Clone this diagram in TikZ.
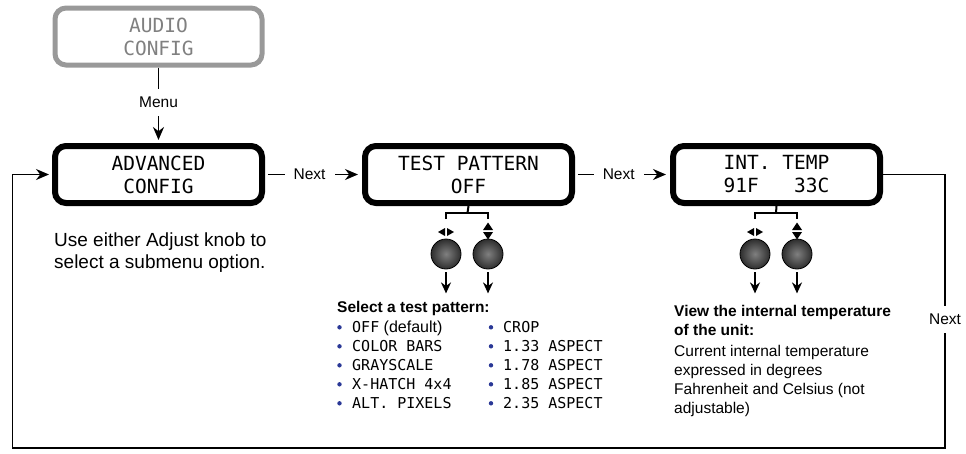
\documentclass[tikz,border=0pt]{standalone}
\usepackage{fontspec}
\setmainfont{Liberation Sans}
\newfontfamily\lcdfont{DejaVu Sans Mono}
\usetikzlibrary{arrows.meta}
\definecolor{dotblue}{RGB}{42,56,150}

\tikzset{
lcd/.style={draw,line width=6pt,rounded corners=11pt,minimum width=207pt,minimum height=57pt,inner sep=0pt,align=center,font=\lcdfont\fontsize{19.5}{23}\selectfont},
go/.style={line width=1.5pt,-{Stealth[length=13pt,width=11pt]}},
turn/.style={line width=1.6pt,-{Stealth[length=11pt,width=10pt]}},
lbl/.style={fill=white,inner xsep=9pt,inner ysep=8pt,font=\fontsize{15.5}{18}\selectfont},
brk/.style={line width=2pt},
knob/.style={circle,draw,line width=.8pt,minimum size=30pt,inner sep=0pt,inner color=black!50,outer color=black!82},
item/.style={anchor=base west,inner sep=0pt,font=\lcdfont\fontsize{15}{18}\selectfont},
note/.style={anchor=base west,inner sep=0pt,font=\fontsize{15.5}{19}\selectfont}
}

\begin{document}
\begin{tikzpicture}[x=1pt,y=-1pt]
\useasboundingbox (0,0) rectangle (966,453);

\node[lcd,draw=black!40,text=black!50,line width=5pt] (audio) at (158.5,36.5) {AUDIO\\CONFIG};
\node[lcd] (adv) at (158.5,174.5) {ADVANCED\\CONFIG};
\node[lcd] (pat) at (468.5,174.5) {TEST PATTERN\\OFF};
\node[lcd] (temp) at (776.5,174.5) {INT. TEMP\\91F\ \ \ 33C};


\draw[go,shorten >=3pt] (audio) -- node[lbl,pos=.46]{Menu} (adv);
\draw[go,shorten <=3pt,shorten >=4pt] (adv) -- node[lbl,pos=.46]{Next} (pat);
\draw[go,shorten <=3pt,shorten >=4pt] (pat) -- node[lbl,pos=.46]{Next} (temp);

\coordinate (ne) at (945,174.5);
\coordinate (se) at (945,448);
\coordinate (sw) at (12.5,448);
\coordinate (nw) at (12.5,174.5);
\draw[go,shorten >=3pt] (temp.east) -- (ne) -- node[lbl,pos=.53]{Next} (se) -- (sw) -- (nw) -- (adv.west);

\node[anchor=north west,inner sep=0pt,align=left,font=\fontsize{19}{22}\selectfont] (hint) at (54,233) {Use either Adjust knob to\\select a submenu option.};

  \draw[brk] (pat.south) -- (467.5,213);
  \draw[brk] (446,219) -- (446,213) -- (488,213) -- (488,219);
  \draw[brk] (temp.south) -- (776,213);
  \draw[brk] (755,219) -- (755,213) -- (797,213) -- (797,219);

\foreach \kx in {446,755} {
  \fill (\kx-1,228) -- (\kx-1,236) -- (\kx-8,232) -- cycle;
  \fill (\kx+1,228) -- (\kx+1,236) -- (\kx+8,232) -- cycle;
}
\foreach \kx in {488,797} {
  \fill (\kx-5,230) -- (\kx+5,230) -- (\kx,222.5) -- cycle;
  \fill (\kx-5,232) -- (\kx+5,232) -- (\kx,239.5) -- cycle;
}

\foreach \kx/\kn in {446/k1,488/k2,755/k3,797/k4} {
  \node[knob] (\kn) at (\kx,254) {};
  \draw[turn,shorten <=3pt] (\kn.south) -- ++(0,24);
}

\node[note,font=\bfseries\fontsize{15.5}{19}\selectfont] (pathead) at (337,312.3) {Select a test pattern:};
\foreach \t [count=\i, evaluate=\i as \y using 313.3+19*\i] in {OFF{\rmfamily\fontsize{16}{18}\selectfont\ (default)},COLOR BARS,GRAYSCALE,X-HATCH 4x4,ALT. PIXELS} {
  \fill[dotblue] (339.5,\y-5) circle (2.2pt);
  \node[item] (pa\i) at (352,\y) {\t};
}
\foreach \t [count=\i, evaluate=\i as \y using 313.3+19*\i] in {CROP,1.33 ASPECT,1.78 ASPECT,1.85 ASPECT,2.35 ASPECT} {
  \fill[dotblue] (491,\y-5) circle (2.2pt);
  \node[item] (pb\i) at (503,\y) {\t};
}

\node[note,font=\bfseries\fontsize{15.5}{18.3}\selectfont,align=left] (temphead) at (674,335) {View the internal temperature\\of the unit:};
\node[note,align=left,anchor=north west] (tempnote) at (674,345.5) {Current internal temperature\\expressed in degrees\\Fahrenheit and Celsius (not\\adjustable)};

\end{tikzpicture}
\end{document}
